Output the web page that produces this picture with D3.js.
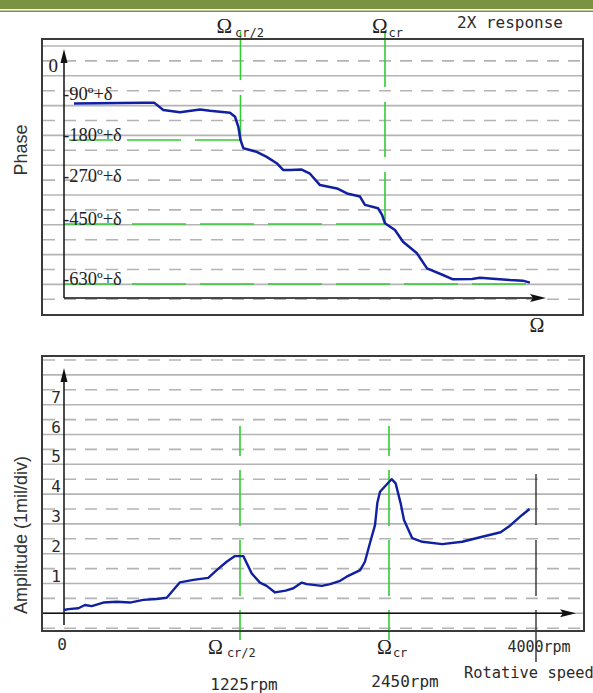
<!DOCTYPE html>
<html lang="en">
<head>
<meta charset="utf-8">
<title>2X response</title>
<script src="https://cdn.jsdelivr.net/npm/d3@7"></script>
<style>
  body { margin:0; background:#ffffff; }
  svg { display:block; }
  .mono { font-family:"DejaVu Sans Mono", monospace; fill:#2a2a2a; }
  .serif { font-family:"Liberation Serif", "Times New Roman", serif; fill:#222; }
  .sans { font-family:"Liberation Sans", Arial, sans-serif; fill:#333; }
</style>
</head>
<body>
<script>

// ---- data ----
var speedMarks = [1225, 2450];            // rpm of the two critical markers
var speedMarkLabels = ["1225rpm", "2450rpm"];
var speedMarkSubs = ["cr/2", "cr"];
var maxSpeed = 4000;

var phaseTicks = [0, -90, -180, -270, -450, -630];
var phaseLabels = ["0", "-90º+δ", "-180º+δ", "-270º+δ", "-450º+δ", "-630º+δ"];
var phaseLevels = [-180, -450, -630];      // green reference levels
var phaseLevelEnd = [1225, 2450, 4000];    // rpm where each level line stops

var phaseRpm = [69, 550, 625, 689, 805, 944, 1013, 1152, 1187, 1210, 1225, 1249, 1362, 1447,
  1532, 1588, 1645, 1744, 1814, 1899, 2043, 2128, 2238, 2280, 2391, 2425, 2450, 2555, 2640,
  2787, 2893, 3061, 3166, 3367, 3451, 3588, 3767, 3904, 3978];
var phaseDeg = [-100, -98, -98, -114, -119, -113, -116, -120, -129, -151, -180, -198, -206, -217,
  -231, -246, -246, -245, -254, -287, -301, -322, -335, -370, -384, -412, -447, -468, -503,
  -538, -583, -603, -616, -615, -611, -614, -618, -620, -626];

var ampTicks = [1, 2, 3, 4, 5, 6, 7];
var ampRpm = [0, 30, 100, 146, 193, 274, 367, 459, 552, 645, 715, 761, 807, 900, 1004, 1063,
  1132, 1190, 1252, 1321, 1389, 1444, 1513, 1600, 1664, 1733, 1774, 1898, 1966, 2048, 2102,
  2213, 2252, 2293, 2335, 2354, 2376, 2444, 2478, 2520, 2573, 2608, 2695, 2801, 3011, 3222,
  3433, 3627, 3714, 3854, 3932];
var ampVal = [0.11, 0.14, 0.17, 0.28, 0.24, 0.36, 0.39, 0.36, 0.45, 0.48, 0.52, 0.78, 1.04, 1.12,
  1.19, 1.45, 1.73, 1.92, 1.92, 1.34, 1.03, 0.92, 0.70, 0.76, 0.84, 1.03, 0.98, 0.92, 0.98, 1.09,
  1.23, 1.45, 1.73, 2.35, 2.96, 3.70, 4.08, 4.38, 4.50, 4.36, 3.69, 3.13, 2.52, 2.40, 2.32, 2.40,
  2.57, 2.72, 2.91, 3.30, 3.50];

// ---- layout ----
var w = 593, h = 693;
var blue = "#1020a0", green = "#33cc33", grid = "#b4b4b4";

var svg = d3.select("body").append("svg")
  .attr("width", w)
  .attr("height", h);

// header band
svg.append("rect").attr("x", 0).attr("y", 0).attr("width", w).attr("height", 9).attr("fill", "#7a9342");
svg.append("rect").attr("x", 0).attr("y", 10.5).attr("width", w).attr("height", 1.5).attr("fill", "#7a9342");

// the speed axis is schematic, so the scales are piecewise
var xPhase = d3.scaleLinear().domain([0, 1225, 2450, 4000]).range([64, 240.5, 385, 532]);
var yPhase = d3.scaleLinear().domain(phaseTicks).range([71, 99, 140, 181, 224, 284]);

var xAmp = d3.scaleLinear().domain([0, 1225, 2450, 4000]).range([64, 240, 389, 536]);
var yAmp = d3.scaleLinear().domain([0, 8]).range([613.3, 374.9]);

function arrowUp(x, tip) {
  return "M" + x + "," + tip + "L" + (x - 3.5) + "," + (tip + 14) + "L" + (x + 3.5) + "," + (tip + 14) + "Z";
}
function arrowRight(tip, y) {
  return "M" + tip + "," + y + "L" + (tip - 16) + "," + (y - 4) + "L" + (tip - 13) + "," + y + "L" + (tip - 16) + "," + (y + 4) + "Z";
}

// ================= PHASE PANEL =================
var phase = svg.append("g");

// gridlines, alternating solid / dashed
phase.selectAll("line.grid")
  .data(d3.range(18))
  .enter().append("line")
  .attr("class", "grid")
  .attr("x1", 43).attr("x2", 582)
  .attr("y1", function(k) { return 46 + 14.9 * k; })
  .attr("y2", function(k) { return 46 + 14.9 * k; })
  .attr("stroke", grid)
  .attr("stroke-width", 1.6)
  .attr("stroke-dasharray", function(k) { return k % 2 ? "12,9" : null; });

// green reference levels
phase.selectAll("line.level")
  .data(phaseLevels)
  .enter().append("line")
  .attr("class", "level")
  .attr("x1", function(d, i) { return i == 0 ? xPhase(0) + 5 : xPhase(0); })
  .attr("x2", function(d, i) { return xPhase(phaseLevelEnd[i]); })
  .attr("y1", function(d) { return yPhase(d); })
  .attr("y2", function(d) { return yPhase(d); })
  .attr("stroke", green)
  .attr("stroke-width", 1.6)
  .attr("stroke-dasharray", "54,14")
  .attr("stroke-dashoffset", function(d, i) { return i == 0 ? 10 : 0; });

// green critical speed markers
phase.selectAll("line.mark")
  .data(speedMarks)
  .enter().append("line")
  .attr("class", "mark")
  .attr("x1", function(d) { return xPhase(d); })
  .attr("x2", function(d) { return xPhase(d); })
  .attr("y1", 32)
  .attr("y2", function(d, i) { return yPhase(phaseLevels[i]); })
  .attr("stroke", green)
  .attr("stroke-width", 1.6)
  .attr("stroke-dasharray", "55,15")
  .attr("stroke-dashoffset", function(d, i) { return i == 0 ? 7 : 0; });

// frame
phase.append("rect")
  .attr("x", 42).attr("y", 39).attr("width", 541).attr("height", 276)
  .attr("fill", "none").attr("stroke", "#3a3a3a").attr("stroke-width", 2);

// axes
phase.append("line").attr("x1", xPhase(0)).attr("x2", xPhase(0)).attr("y1", 55).attr("y2", 298)
  .attr("stroke", "#111").attr("stroke-width", 1.5);
phase.append("path").attr("d", arrowUp(xPhase(0), 49)).attr("fill", "#111");
phase.append("line").attr("x1", xPhase(0)).attr("x2", 535).attr("y1", 298).attr("y2", 298)
  .attr("stroke", "#111").attr("stroke-width", 1.5);
phase.append("path").attr("d", arrowRight(546, 298)).attr("fill", "#111");

// phase labels
phase.selectAll("text.tick")
  .data(phaseTicks)
  .enter().append("text")
  .attr("class", "tick serif")
  .attr("x", function(d) { return d == 0 ? xPhase(0) - 6 : xPhase(0) - 1; })
  .attr("y", function(d) { return yPhase(d) + 1; })
  .attr("text-anchor", function(d) { return d == 0 ? "end" : "start"; })
  .attr("font-size", function(d) { return d == 0 ? 19 : 18.5; })
  .text(function(d, i) { return phaseLabels[i]; });

// curve
var phaseLine = d3.line()
  .x(function(d) { return xPhase(d[0]); })
  .y(function(d) { return yPhase(d[1]); });
phase.append("path")
  .datum(d3.zip(phaseRpm, phaseDeg))
  .attr("d", phaseLine)
  .attr("fill", "none")
  .attr("stroke", blue)
  .attr("stroke-width", 2.5)
  .attr("stroke-linejoin", "round");

phase.append("text").attr("class", "sans")
  .attr("transform", "translate(27,150) rotate(-90)")
  .attr("text-anchor", "middle")
  .attr("font-size", 18)
  .text("Phase");

phase.append("text").attr("class", "serif")
  .attr("x", 537).attr("y", 332)
  .attr("text-anchor", "middle")
  .attr("font-size", 20)
  .text("Ω");

// Omega labels on top
var topMarks = phase.selectAll("text.omega")
  .data(speedMarks)
  .enter().append("text")
  .attr("class", "omega serif")
  .attr("x", function(d) { return xPhase(d) - 24 + (d == 2450 ? 11 : 0); })
  .attr("y", 33)
  .attr("font-size", 21);
topMarks.append("tspan").text("Ω");
topMarks.append("tspan").attr("class", "mono").attr("font-size", 12).attr("dy", 4)
  .attr("dx", function(d, i) { return i == 0 ? 3 : 1; })
  .text(function(d, i) { return speedMarkSubs[i]; });

svg.append("text").attr("class", "mono")
  .attr("x", 457).attr("y", 28)
  .attr("font-size", 16)
  .text("2X response");

// ================= AMPLITUDE PANEL =================
var amp = svg.append("g");

amp.selectAll("line.grid")
  .data(d3.range(19))
  .enter().append("line")
  .attr("class", "grid")
  .attr("x1", 43).attr("x2", 583)
  .attr("y1", function(k) { return 360 + 14.9 * k; })
  .attr("y2", function(k) { return 360 + 14.9 * k; })
  .attr("stroke", grid)
  .attr("stroke-width", 1.6)
  .attr("stroke-dasharray", function(k) { return k % 2 ? null : "12,9"; });

amp.selectAll("line.mark")
  .data(speedMarks)
  .enter().append("line")
  .attr("class", "mark")
  .attr("x1", function(d) { return xAmp(d); })
  .attr("x2", function(d) { return xAmp(d); })
  .attr("y1", 640)
  .attr("y2", 426)
  .attr("stroke", green)
  .attr("stroke-width", 1.6)
  .attr("stroke-dasharray", "56,14")
  .attr("stroke-dashoffset", 26);

amp.append("line")
  .attr("x1", xAmp(maxSpeed)).attr("x2", xAmp(maxSpeed))
  .attr("y1", 474).attr("y2", 662)
  .attr("stroke", "#222").attr("stroke-width", 1.3)
  .attr("stroke-dasharray", "51,15,56,14,52");

amp.append("rect")
  .attr("x", 42).attr("y", 356).attr("width", 542).attr("height", 275)
  .attr("fill", "none").attr("stroke", "#3a3a3a").attr("stroke-width", 2);

amp.append("line").attr("x1", xAmp(0)).attr("x2", xAmp(0)).attr("y1", 374).attr("y2", 625)
  .attr("stroke", "#111").attr("stroke-width", 1.5);
amp.append("path").attr("d", arrowUp(xAmp(0), 368)).attr("fill", "#111");
amp.append("line").attr("x1", 43).attr("x2", 565).attr("y1", yAmp(0)).attr("y2", yAmp(0))
  .attr("stroke", "#111").attr("stroke-width", 1.5);
amp.append("path").attr("d", arrowRight(576, yAmp(0))).attr("fill", "#111");

amp.selectAll("text.tick")
  .data(ampTicks)
  .enter().append("text")
  .attr("class", "tick mono")
  .attr("x", 56)
  .attr("y", function(d) { return yAmp(d) - 2; })
  .attr("text-anchor", "middle")
  .attr("font-size", 16)
  .text(function(d) { return d; });

amp.append("text").attr("class", "mono")
  .attr("x", xAmp(0) - 2).attr("y", 650)
  .attr("text-anchor", "middle")
  .attr("font-size", 16)
  .text("0");

var ampLine = d3.line()
  .x(function(d) { return xAmp(d[0]); })
  .y(function(d) { return yAmp(d[1]); });
amp.append("path")
  .datum(d3.zip(ampRpm, ampVal))
  .attr("d", ampLine)
  .attr("fill", "none")
  .attr("stroke", blue)
  .attr("stroke-width", 2.4)
  .attr("stroke-linejoin", "round");

amp.append("text").attr("class", "sans")
  .attr("transform", "translate(27,535) rotate(-90)")
  .attr("text-anchor", "middle")
  .attr("font-size", 18)
  .text("Amplitude (1mil/div)");

// bottom Omega labels and rpm values
var botMarks = amp.selectAll("text.omega")
  .data(speedMarks)
  .enter().append("text")
  .attr("class", "omega serif")
  .attr("x", function(d) { return xAmp(d) - 32 + (d == 2450 ? 20 : 0); })
  .attr("y", 654)
  .attr("font-size", 20);
botMarks.append("tspan").text("Ω");
botMarks.append("tspan").attr("class", "mono").attr("font-size", 12).attr("dy", 3)
  .attr("dx", function(d, i) { return i == 0 ? 4 : 1; })
  .text(function(d, i) { return speedMarkSubs[i]; });

amp.selectAll("text.rpm")
  .data(speedMarks)
  .enter().append("text")
  .attr("class", "rpm mono")
  .attr("x", function(d) { return xAmp(d) + 4 + (d == 2450 ? 12 : 0); })
  .attr("y", function(d) { return d == 2450 ? 687 : 690; })
  .attr("text-anchor", "middle")
  .attr("font-size", 16)
  .text(function(d, i) { return speedMarkLabels[i]; });

amp.append("text").attr("class", "mono")
  .attr("x", xAmp(maxSpeed) + 3).attr("y", 652)
  .attr("text-anchor", "middle")
  .attr("font-size", 15)
  .text(maxSpeed + "rpm");

svg.append("text").attr("class", "mono")
  .attr("x", 464).attr("y", 678)
  .attr("font-size", 15.4)
  .text("Rotative speed");

</script>
</body>
</html>
